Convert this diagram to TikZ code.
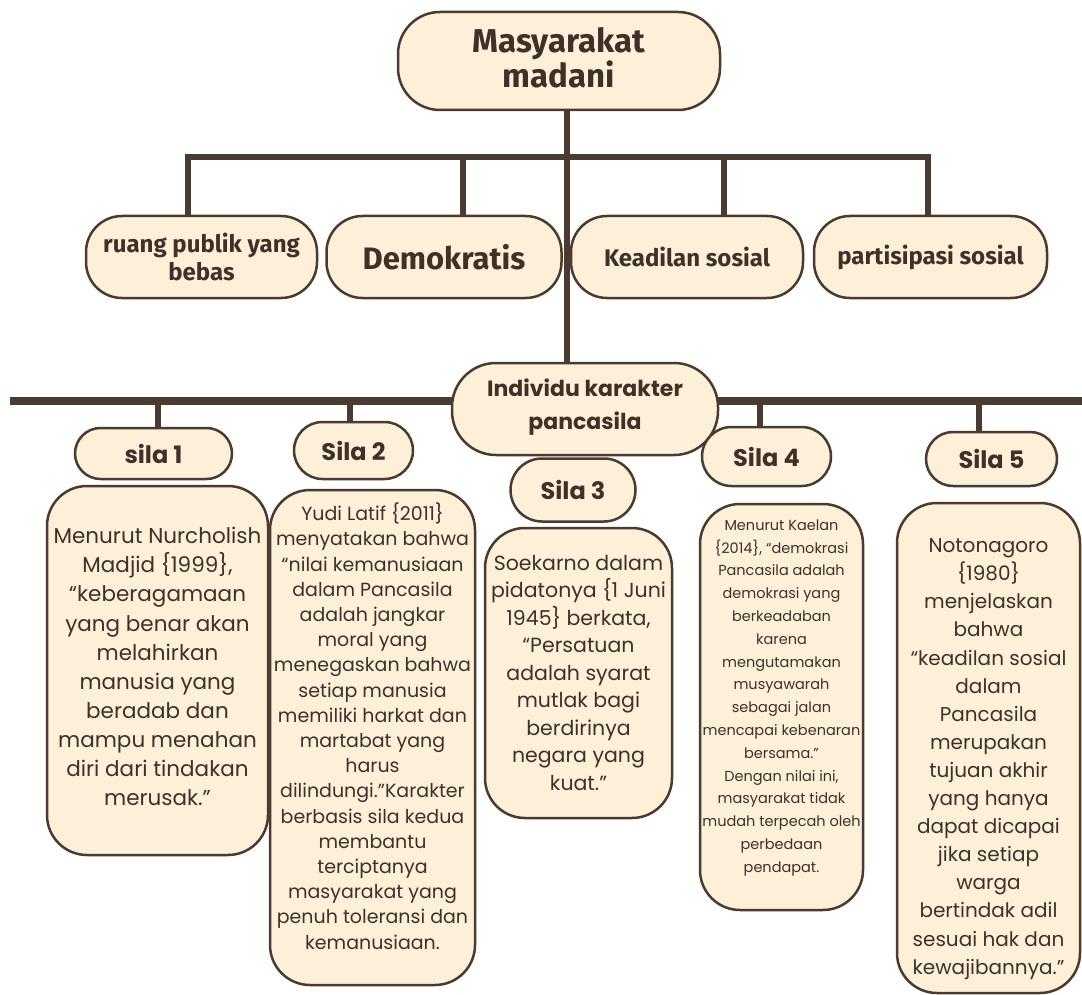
\documentclass[tikz,border=0pt]{standalone}
\usepackage{fontspec}
\setmainfont{Poppins}
\newfontfamily\handfont{Fira Sans}
\usetikzlibrary{positioning,shapes.misc,backgrounds}

\definecolor{cream}{HTML}{FDF0D8}
\definecolor{bark}{HTML}{4A3A30}
\definecolor{ink}{HTML}{3F302A}

\begin{document}
\begin{tikzpicture}[
    x=1pt, y=-1pt,
    box/.style={draw=bark, fill=cream, line width=2.5pt, text=ink, align=center,
      rounded corners=#1, inner sep=0pt},
    box/.default=40pt,
    topic/.style={box=36pt, minimum height=82pt,
      font=\handfont\bfseries\fontsize{24}{28}\selectfont},
    pill/.style={rounded rectangle, draw=bark, fill=cream, line width=2.5pt,
      text=ink, inner sep=0pt, font=\bfseries\fontsize{24}{28}\selectfont},
    link/.style={draw=bark, line width=6pt, line join=miter},
    bar/.style={draw=bark, line width=7.5pt}
    ]
    \useasboundingbox (0,0) rectangle (1082,995);

    % top level
    \node[box=42pt, minimum width=322pt, minimum height=98pt,
      font=\handfont\bfseries\fontsize{33}{35}\selectfont] (root) at (559,61)
      {Masyarakat\\madani\rule[-8pt]{0pt}{0pt}};

    \node[topic, minimum width=231pt] (ruang) at (201.5,257) {ruang publik yang\\bebas};
    \node[topic, minimum width=235pt, font=\handfont\bfseries\fontsize{31}{34}\selectfont]
      (demo) at (444,257) {Demokratis};
    \node[topic, minimum width=232pt] (keadilan) at (687,257) {Keadilan sosial};
    \node[topic, minimum width=233pt] (partis) at (930.5,257) {partisipasi sosial};

    \node[box=44pt, minimum width=266pt, minimum height=92pt,
      font=\bfseries\fontsize{22}{33}\selectfont] (indiv) at (585,409)
      {Individu karakter\\pancasila\rule[-10pt]{0pt}{0pt}};

    % sila labels
    \node[pill, minimum width=157pt, minimum height=51pt] (sila1) at (153.5,453.5) {sila 1};
    \node[pill, minimum width=119pt, minimum height=57pt] (sila2) at (353.5,450.5) {Sila 2};
    \node[pill, minimum width=125pt, minimum height=63pt] (sila3) at (573,490) {Sila 3};
    \node[pill, minimum width=129pt, minimum height=59pt] (sila4) at (766.5,456.5) {Sila 4};
    \node[pill, minimum width=131pt, minimum height=54pt] (sila5) at (991.5,459) {Sila 5};

    % quotes
    \node[box, minimum width=221pt, minimum height=369pt,
      font=\fontsize{21.5}{29.1}\selectfont] (isi1) at (157.5,670.5)
      {Menurut Nurcholish\\Madjid \{1999\},\\“keberagamaan\\yang benar akan\\melahirkan\\
       manusia yang\\beradab dan\\mampu menahan\\diri dari tindakan\\
       merusak.”\rule[-8pt]{0pt}{0pt}};
    \node[box, minimum width=205pt, minimum height=495pt,
      font=\fontsize{19}{25.2}\selectfont] (isi2) at (372.5,737.5)
      {Yudi Latif \{2011\}\\menyatakan bahwa\\“nilai kemanusiaan\\dalam Pancasila\\
       adalah jangkar\\moral yang\\menegaskan bahwa\\setiap manusia\\
       memiliki harkat dan\\martabat yang\\harus\\dilindungi.”Karakter\\
       berbasis sila kedua\\membantu\\terciptanya\\masyarakat yang\\
       penuh toleransi dan\\kemanusiaan.\rule[-23pt]{0pt}{0pt}};
    \node[box, minimum width=187pt, minimum height=290pt,
      font=\fontsize{20.5}{27.5}\selectfont] (isi3) at (578.5,673)
      {Soekarno dalam\\pidatonya \{1 Juni\\1945\} berkata,\\“Persatuan\\
       adalah syarat\\mutlak bagi\\berdirinya\\negara yang\\kuat.”};
    \node[box, minimum width=163pt, minimum height=406pt,
      font=\fontsize{14.5}{22.8}\selectfont] (isi4) at (781.5,707)
      {Menurut Kaelan\\\{2014\}, “demokrasi\\Pancasila adalah\\demokrasi yang\\
       berkeadaban\\karena\\mengutamakan\\musyawarah\\sebagai jalan\\
       mencapai kebenaran\\bersama.”\\Dengan nilai ini,\\masyarakat tidak\\
       mudah terpecah oleh\\perbedaan\\pendapat.\rule[-22pt]{0pt}{0pt}};
    \node[box, minimum width=183pt, minimum height=490pt,
      font=\fontsize{20}{28.1}\selectfont] (isi5) at (988.5,748)
      {\rule{0pt}{36pt}Notonagoro\\\{1980\}\\menjelaskan\\bahwa\\“keadilan sosial\\dalam\\
       Pancasila\\merupakan\\tujuan akhir\\yang hanya\\dapat dicapai\\
       jika setiap\\warga\\bertindak adil\\sesuai hak dan\\kewajibannya.”};

    % connectors behind the boxes
    \begin{pgfonlayer}{background}
      \fill[white] (0,0) rectangle (1082,995);
      \coordinate (hub) at (567,157);
      \coordinate (t1) at (188,157);
      \coordinate (t2) at (463,157);
      \coordinate (t3) at (724,157);
      \coordinate (t4) at (928,157);
      \draw[link] (root.south -| hub) -- (indiv.north -| hub);
      \draw[link] (t1 |- ruang.north) -- (t1) -- (t4) -- (t4 |- partis.north);
      \draw[link] (t2) -- (t2 |- demo.north);
      \draw[link] (t3) -- (t3 |- keadilan.north);

      \coordinate (l0) at (10,401);
      \coordinate (r0) at (1082,401);
      \coordinate (s1) at (158,401);
      \coordinate (s2) at (350,401);
      \coordinate (s4) at (760,401);
      \coordinate (s5) at (979,401);
      \draw[bar] (l0) -- (r0);
      \draw[link] (s1) -- (s1 |- sila1.north);
      \draw[link] (s2) -- (s2 |- sila2.north);
      \draw[link] (s4) -- (s4 |- sila4.north);
      \draw[link] (s5) -- (s5 |- sila5.north);
    \end{pgfonlayer}

\end{tikzpicture}
\end{document}
